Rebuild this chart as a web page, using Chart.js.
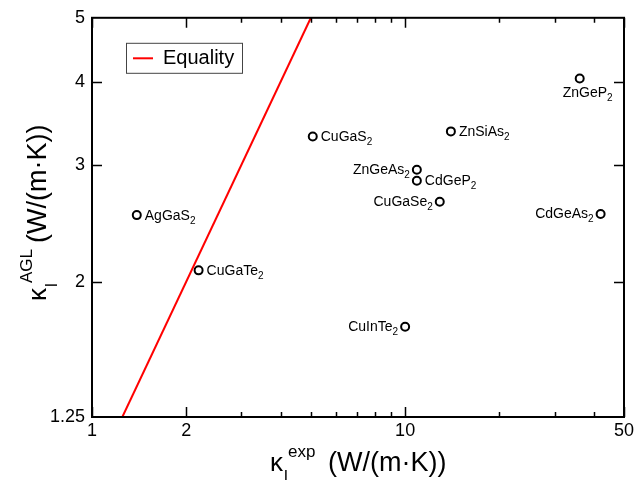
<!DOCTYPE html>
<html>
<head>
<meta charset="utf-8">
<script src="https://cdn.jsdelivr.net/npm/chart.js@4/dist/chart.umd.min.js"></script>
<style>
  body { margin: 0; background: #fff; }
  #wrap { width: 638px; height: 480px; }
</style>
</head>
<body>
<div id="wrap"><canvas id="kappaChart" width="638" height="480"></canvas></div>
<script>
// data
const compounds = ['AgGaS2', 'CuGaTe2', 'CuGaS2', 'ZnSiAs2', 'ZnGeAs2', 'CdGeP2', 'CuGaSe2', 'CdGeAs2', 'ZnGeP2', 'CuInTe2'];
const kappaExp = [1.39, 2.19, 5.07, 14.0, 10.9, 10.9, 12.9, 42.1, 36.1, 10.0];
const kappaAGL = [2.52, 2.08, 3.31, 3.37, 2.95, 2.84, 2.64, 2.53, 4.05, 1.71];
const equality = [1.25, 5];
const xTicks = [1, 2, 3, 4, 5, 6, 7, 8, 9, 10, 20, 30, 40, 50];
const xMajor = [1, 2, 10, 50];
const yTicks = [1.25, 2, 3, 4, 5];
const yMajor = [2, 3, 4];

// where each label sits relative to its circle
const labelSide = ['right', 'right', 'right', 'right', 'left', 'right', 'left', 'left', 'below', 'left'];

const FONT = '"Liberation Sans", Arial, Helvetica, sans-serif';

function drawFormula(ctx, name, x, y, align) {
    // trailing digits become subscripts
    const m = name.match(/^(.*?)(\d+)$/);
    const main = m ? m[1] : name;
    const sub = m ? m[2] : '';
    ctx.font = '14px ' + FONT;
    const wMain = ctx.measureText(main).width;
    ctx.font = '10px ' + FONT;
    const wSub = ctx.measureText(sub).width;
    let x0 = x;
    if (align === 'left') x0 = x - wMain - wSub;
    ctx.textAlign = 'left';
    ctx.textBaseline = 'alphabetic';
    ctx.font = '14px ' + FONT;
    ctx.fillText(main, x0, y);
    ctx.font = '10px ' + FONT;
    ctx.fillText(sub, x0 + wMain, y + 4);
}

function drawKappaTitle(ctx, sub, sup) {
    ctx.textAlign = 'left';
    ctx.textBaseline = 'alphabetic';
    ctx.font = '26px ' + FONT;
    ctx.fillText('\u03ba', 0, 0);
    ctx.font = '17px ' + FONT;
    ctx.fillText(sub, 14, 11);
    ctx.fillText(sup, 18, -14);
    ctx.font = '27px ' + FONT;
    ctx.fillText('(W/(m\u00b7K))', 58, 0);
}

const decorations = {
    id: 'decorations',
    afterDatasetsDraw(chart) {
        const ctx = chart.ctx;
        const a = chart.chartArea;
        const xs = chart.scales.x;
        const ys = chart.scales.y;
        ctx.save();

        // frame
        ctx.strokeStyle = '#000';
        ctx.lineWidth = 2;
        ctx.strokeRect(a.left, a.top, a.right - a.left, a.bottom - a.top);

        // inward ticks on all four sides
        ctx.lineWidth = 1.5;
        ctx.beginPath();
        xTicks.forEach(v => {
            const px = Math.round(xs.getPixelForValue(v)) + 0.5;
            const len = xMajor.includes(v) ? 10 : 5;
            ctx.moveTo(px, a.bottom); ctx.lineTo(px, a.bottom - len);
            ctx.moveTo(px, a.top); ctx.lineTo(px, a.top + len);
        });
        yMajor.forEach(v => {
            const py = Math.round(ys.getPixelForValue(v)) + 0.5;
            ctx.moveTo(a.left, py); ctx.lineTo(a.left + 10, py);
            ctx.moveTo(a.right, py); ctx.lineTo(a.right - 10, py);
        });
        ctx.stroke();

        // compound labels
        ctx.fillStyle = '#000';
        const meta = chart.getDatasetMeta(1);
        meta.data.forEach((pt, i) => {
            const side = labelSide[i];
            if (side === 'right') drawFormula(ctx, compounds[i], pt.x + 8, pt.y + 4.5, 'right');
            else if (side === 'left') drawFormula(ctx, compounds[i], pt.x - 7, pt.y + 4.5, 'left');
            else drawFormula(ctx, compounds[i], pt.x - 17, pt.y + 19, 'right');
        });

        // legend box
        const ds = chart.data.datasets[0];
        const lx = a.left + 34, ly = a.top + 25;
        ctx.strokeStyle = '#444';
        ctx.lineWidth = 1;
        ctx.strokeRect(lx + 0.5, ly + 0.5, 116, 30);
        ctx.strokeStyle = ds.borderColor;
        ctx.lineWidth = 2;
        ctx.beginPath();
        ctx.moveTo(lx + 7, ly + 15.5); ctx.lineTo(lx + 27, ly + 15.5);
        ctx.stroke();
        ctx.fillStyle = '#000';
        ctx.font = '20px ' + FONT;
        ctx.textAlign = 'left';
        ctx.textBaseline = 'middle';
        ctx.fillText(ds.label, lx + 37, ly + 16);

        // axis titles
        ctx.fillStyle = '#000';
        ctx.save();
        ctx.translate(270, 471);
        drawKappaTitle(ctx, 'l', 'exp');
        ctx.restore();
        ctx.save();
        ctx.translate(46, 301);
        ctx.rotate(-Math.PI / 2);
        drawKappaTitle(ctx, 'l', 'AGL');
        ctx.restore();

        ctx.restore();
    }
};

new Chart(document.getElementById('kappaChart').getContext('2d'), {
    type: 'scatter',
    data: {
        datasets: [
            {
                type: 'line',
                label: 'Equality',
                data: equality.map(v => ({ x: v, y: v })),
                borderColor: '#ff0000',
                borderWidth: 2,
                pointRadius: 0,
                fill: false
            },
            {
                label: 'compounds',
                data: kappaExp.map((v, i) => ({ x: v, y: kappaAGL[i] })),
                pointStyle: 'circle',
                pointRadius: 4,
                borderWidth: 2,
                borderColor: '#000',
                backgroundColor: '#fff'
            }
        ]
    },
    options: {
        responsive: false,
        animation: false,
        layout: { padding: { top: 15, right: 14, left: 0, bottom: 0 } },
        plugins: {
            legend: { display: false },
            tooltip: { enabled: false }
        },
        scales: {
            x: {
                type: 'logarithmic',
                min: 1,
                max: 50,
                grid: { display: false, drawTicks: false },
                border: { display: false },
                afterBuildTicks: s => { s.ticks = xTicks.map(v => ({ value: v })); },
                afterFit: s => { s.height = 63; },
                ticks: {
                    autoSkip: false,
                    maxRotation: 0,
                    padding: 3,
                    color: '#000',
                    font: { family: FONT, size: 18 },
                    callback: v => xMajor.includes(v) ? String(v) : ''
                }
            },
            y: {
                type: 'logarithmic',
                min: 1.25,
                max: 5,
                grid: { display: false, drawTicks: false },
                border: { display: false },
                afterBuildTicks: s => { s.ticks = yTicks.map(v => ({ value: v })); },
                afterFit: s => { s.width = 92; },
                ticks: {
                    autoSkip: false,
                    padding: 7,
                    color: '#000',
                    font: { family: FONT, size: 18 },
                    callback: v => String(v)
                }
            }
        }
    },
    plugins: [decorations]
});
</script>
</body>
</html>
